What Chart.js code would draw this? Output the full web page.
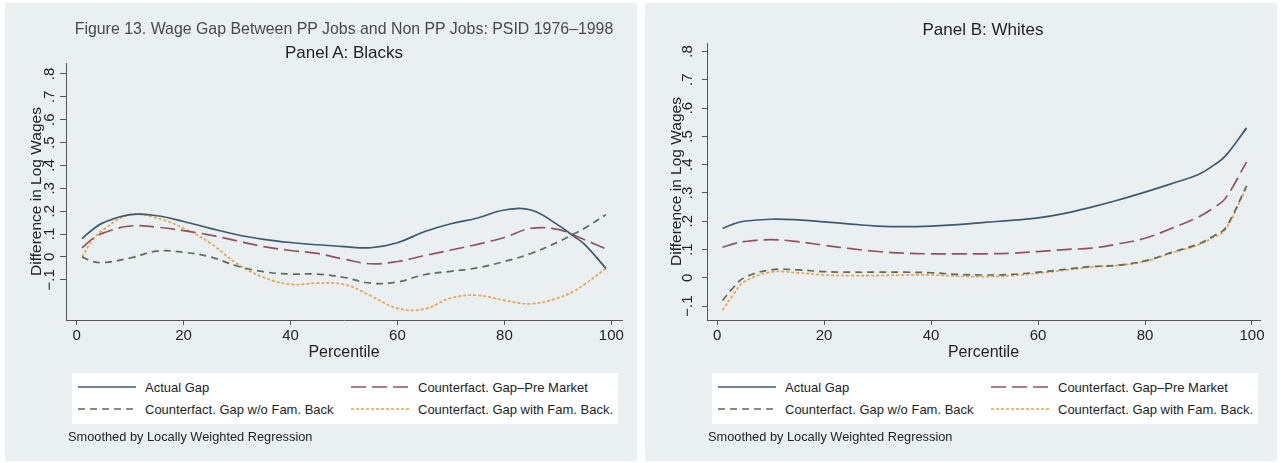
<!DOCTYPE html>
<html>
<head>
<meta charset="utf-8">
<script src="https://cdn.jsdelivr.net/npm/chart.js@4.4.1/dist/chart.umd.min.js"></script>
<style>
  body { margin: 0; background: #fff; width: 1283px; height: 463px; position: relative; overflow: hidden;
         font-family: "Liberation Sans", Arial, sans-serif; color: #1e1e1e; }
  .panel { position: absolute; top: 3px; width: 632px; height: 458px; background: #eaf0f1; }
  .panel canvas { position: absolute; left: 0; top: 0; }
  .ctr { position: absolute; white-space: nowrap; transform: translate(-50%, -50%); line-height: 1; }
  .legend { position: absolute; left: 67px; top: 370px; width: 546px; height: 51px; background: #fff; }
  .legend svg { position: absolute; }
  .legend span { position: absolute; font-size: 13px; white-space: nowrap; line-height: 1; transform: translateY(-50%); }
  .note { position: absolute; left: 63px; top: 434px; font-size: 12.8px; white-space: nowrap; line-height: 1; transform: translateY(-50%); }
</style>
</head>
<body>

<div class="panel" id="panelA" style="left:5px">
  <canvas id="chartA" width="632" height="458"></canvas>
  <div class="ctr" style="left:339px; top:26px; font-size:15.9px; color:#484848">Figure 13. Wage Gap Between PP Jobs and Non PP Jobs: PSID 1976–1998</div>
  <div class="ctr" style="left:339px; top:49px; font-size:17px">Panel A: Blacks</div>
  <div class="legend" id="legendA"></div>
  <div class="note">Smoothed by Locally Weighted Regression</div>
</div>

<div class="panel" id="panelB" style="left:645px">
  <canvas id="chartB" width="632" height="458"></canvas>
  <div class="ctr" style="left:338px; top:26px; font-size:17px">Panel B: Whites</div>
  <div class="legend" id="legendB"></div>
  <div class="note">Smoothed by Locally Weighted Regression</div>
</div>

<script>
// percentiles where the smoothed curves are sampled
const percentiles = [1, 3, 5, 10, 15, 20, 25, 30, 35, 40, 45, 50, 55, 60, 65, 70, 75, 80, 85, 90, 93, 95, 99];

// Panel A: Blacks
const blackActual   = [0.08, 0.12, 0.15, 0.185, 0.18, 0.155, 0.125, 0.097, 0.077, 0.063, 0.053, 0.045, 0.04, 0.062, 0.11, 0.145, 0.17, 0.205, 0.205, 0.14, 0.09, 0.055, -0.05];
const blackPreMkt   = [0.04, 0.08, 0.105, 0.135, 0.13, 0.115, 0.095, 0.07, 0.045, 0.028, 0.015, -0.01, -0.03, -0.02, 0.005, 0.03, 0.055, 0.085, 0.125, 0.12, 0.095, 0.075, 0.035];
const blackNoFam    = [0.0, -0.02, -0.025, -0.005, 0.025, 0.02, 0.0, -0.04, -0.065, -0.075, -0.075, -0.09, -0.115, -0.11, -0.078, -0.063, -0.048, -0.02, 0.015, 0.065, 0.1, 0.125, 0.185];
const blackWithFam  = [0.0, 0.075, 0.12, 0.185, 0.17, 0.125, 0.06, -0.03, -0.09, -0.12, -0.115, -0.12, -0.17, -0.225, -0.228, -0.18, -0.168, -0.19, -0.205, -0.18, -0.15, -0.12, -0.05];

// Panel B: Whites
const whiteActual   = [0.175, 0.19, 0.2, 0.207, 0.205, 0.198, 0.19, 0.183, 0.181, 0.183, 0.188, 0.196, 0.203, 0.212, 0.228, 0.25, 0.275, 0.303, 0.333, 0.365, 0.40, 0.43, 0.53];
const whitePreMkt   = [0.108, 0.12, 0.128, 0.135, 0.128, 0.115, 0.103, 0.093, 0.087, 0.085, 0.085, 0.085, 0.087, 0.093, 0.1, 0.105, 0.12, 0.14, 0.175, 0.215, 0.25, 0.28, 0.41];
const whiteNoFam    = [-0.08, -0.035, 0.0, 0.028, 0.028, 0.022, 0.02, 0.02, 0.02, 0.018, 0.012, 0.01, 0.012, 0.02, 0.03, 0.04, 0.045, 0.06, 0.09, 0.12, 0.15, 0.175, 0.325];
const whiteWithFam  = [-0.115, -0.06, -0.015, 0.02, 0.018, 0.01, 0.008, 0.008, 0.01, 0.01, 0.006, 0.004, 0.008, 0.016, 0.027, 0.038, 0.044, 0.058, 0.088, 0.117, 0.145, 0.17, 0.32];

// axis ticks
const xTicks = [0, 20, 40, 60, 80, 100];
const yTicks = [-0.1, 0, 0.1, 0.2, 0.3, 0.4, 0.5, 0.6, 0.7, 0.8];

const seriesNames = ['Actual Gap', 'Counterfact. Gap\u2013Pre Market', 'Counterfact. Gap w/o Fam. Back', 'Counterfact. Gap with Fam. Back.'];
const seriesColors = ['#3d5a70', '#94525f', '#5e6b58', '#e8a250'];
const seriesDash = [[], [15, 6], [7, 5], [3, 2]];

const FONT = '"Liberation Sans", Arial, sans-serif';

function stataLabel(v) {
  if (Math.abs(v) < 1e-9) return '0';
  const s = Math.abs(v).toFixed(1).replace(/^0/, '');
  return (v < 0 ? '\u2212' : '') + s;
}

function makeChart(id, series, cfg) {
  const datasets = series.map((vals, i) => ({
    label: seriesNames[i],
    data: percentiles.map((p, j) => ({ x: p, y: vals[j] })),
    borderColor: seriesColors[i],
    borderDash: seriesDash[i],
    borderWidth: 1.7,
    pointRadius: 0,
    tension: 0.4,
    fill: false
  }));

  return new Chart(document.getElementById(id), {
    type: 'line',
    data: { datasets },
    options: {
      responsive: false,
      animation: false,
      layout: { padding: { left: cfg.padLeft, top: cfg.padTop, right: cfg.padRight, bottom: cfg.padBottom } },
      plugins: { legend: { display: false }, tooltip: { enabled: false }, title: { display: false } },
      scales: {
        x: {
          type: 'linear', min: cfg.xMin, max: cfg.xMax,
          afterBuildTicks: s => { s.ticks = xTicks.map(v => ({ value: v })); },
          afterFit: s => { s.height = 42; },
          grid: { drawOnChartArea: false, tickLength: 5, tickColor: '#555' },
          border: { color: '#555' },
          ticks: { font: { family: FONT, size: 15 }, color: '#222', padding: 2, maxRotation: 0, autoSkip: false },
          title: { display: true, text: 'Percentile', font: { family: FONT, size: 16 }, color: '#222', padding: 0 }
        },
        y: {
          type: 'linear', min: cfg.yMin, max: cfg.yMax,
          afterBuildTicks: s => { s.ticks = yTicks.map(v => ({ value: v })); },
          afterFit: s => { s.width = cfg.yAxisW; },
          grid: { color: '#ebf1f2', tickLength: cfg.tickLen, tickColor: '#555' },
          border: { color: '#555' },
          ticks: {
            font: { family: FONT, size: 15 }, color: '#222', padding: cfg.tickPad,
            minRotation: 90, maxRotation: 90, crossAlign: 'center', autoSkip: false,
            callback: v => stataLabel(v)
          },
          title: { display: true, text: 'Difference in Log Wages', font: { family: FONT, size: 15.5 }, color: '#222', padding: 0 }
        }
      }
    }
  });
}

function makeLegend(id) {
  const box = document.getElementById(id);
  const cols = [6, 279];
  const rows = [14, 36];
  seriesNames.forEach((name, i) => {
    const x = cols[i % 2], y = rows[Math.floor(i / 2)];
    const svg = document.createElementNS('http://www.w3.org/2000/svg', 'svg');
    svg.setAttribute('width', '58'); svg.setAttribute('height', '6');
    svg.style.left = x + 'px'; svg.style.top = (y - 3) + 'px';
    const ln = document.createElementNS('http://www.w3.org/2000/svg', 'line');
    ln.setAttribute('x1', '0'); ln.setAttribute('y1', '3'); ln.setAttribute('x2', '58'); ln.setAttribute('y2', '3');
    ln.setAttribute('stroke', seriesColors[i]); ln.setAttribute('stroke-width', '1.6');
    if (seriesDash[i].length) ln.setAttribute('stroke-dasharray', seriesDash[i].join(' '));
    svg.appendChild(ln);
    box.appendChild(svg);
    const t = document.createElement('span');
    t.textContent = name;
    t.style.left = (x + 67) + 'px'; t.style.top = y + 'px';
    box.appendChild(t);
  });
}

makeChart('chartA', [blackActual, blackPreMkt, blackNoFam, blackWithFam], {
  padLeft: 22, padTop: 60, padRight: 15, padBottom: 99, yAxisW: 39, tickLen: 6, tickPad: 0,
  xMin: -2, xMax: 102, yMin: -0.276, yMax: 0.848
});
makeChart('chartB', [whiteActual, whitePreMkt, whiteNoFam, whiteWithFam], {
  padLeft: 22, padTop: 40, padRight: 17, padBottom: 99, yAxisW: 40, tickLen: 5, tickPad: 4,
  xMin: -1.9, xMax: 101.5, yMin: -0.149, yMax: 0.83
});
makeLegend('legendA');
makeLegend('legendB');
</script>
</body>
</html>
